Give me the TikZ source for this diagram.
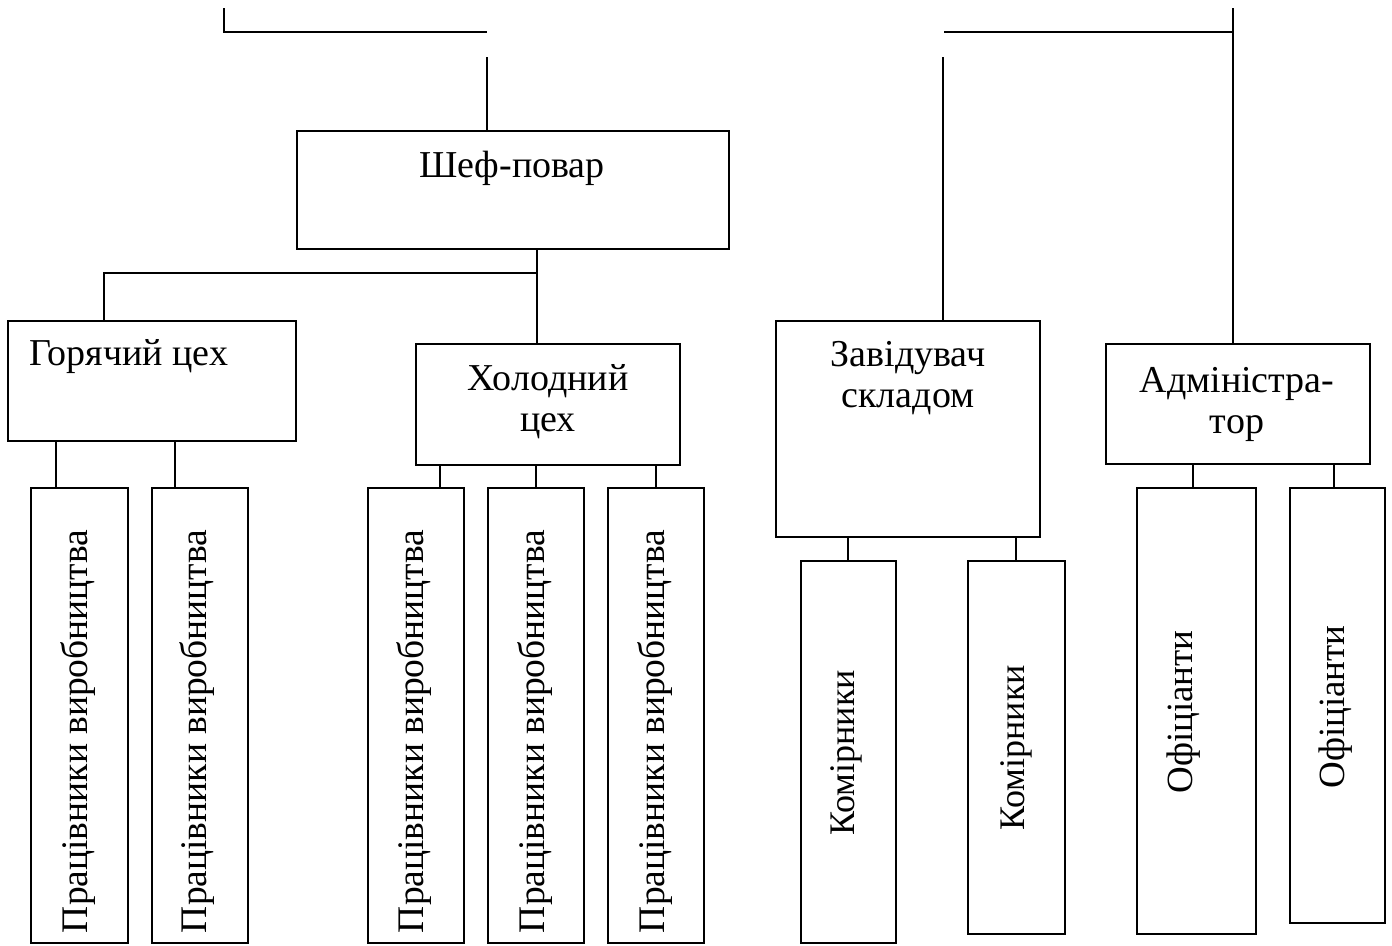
\documentclass[tikz,border=0pt]{standalone}
\usepackage{fontspec}
\setmainfont{Liberation Serif}
\begin{document}
\begin{tikzpicture}[x=1pt,y=-1pt,
  box/.style={draw,line width=2pt,inner sep=0pt,outer sep=0pt},
  ln/.style={line width=2pt},
  txt/.style={font=\fontsize{38}{44}\selectfont,inner sep=0pt,outer sep=0pt},
  vtxt/.style={font=\fontsize{37.5}{44}\selectfont,inner sep=0pt,outer sep=0pt,rotate=90},
  ktxt/.style={font=\fontsize{36}{44}\selectfont,inner sep=0pt,outer sep=0pt,rotate=90}]
\useasboundingbox (0,0) rectangle (1392,945);
% boxes
\node[box,minimum width=432pt,minimum height=118pt] (shef) at (513,190) {};
\node[box,minimum width=288pt,minimum height=120pt] (gor) at (152,381) {};
\node[box,minimum width=264pt,minimum height=121pt] (hol) at (548,404.5) {};
\node[box,minimum width=264pt,minimum height=216pt] (zav) at (908,429) {};
\node[box,minimum width=264pt,minimum height=120pt] (adm) at (1238,404) {};
\node[box,minimum width=97pt,minimum height=455pt] (p1) at (79.5,715.5) {};
\node[box,minimum width=96pt,minimum height=455pt] (p2) at (200,715.5) {};
\node[box,minimum width=96pt,minimum height=455pt] (p3) at (416,715.5) {};
\node[box,minimum width=96pt,minimum height=455pt] (p4) at (536,715.5) {};
\node[box,minimum width=96pt,minimum height=455pt] (p5) at (656,715.5) {};
\node[box,minimum width=95pt,minimum height=382pt] (k1) at (848.5,752) {};
\node[box,minimum width=97pt,minimum height=373pt] (k2) at (1016.5,747.5) {};
\node[box,minimum width=119pt,minimum height=446pt] (o1) at (1196.5,711) {};
\node[box,minimum width=95pt,minimum height=435pt] (o2) at (1337.5,705.5) {};
% texts
\node[txt,anchor=base] (shefT) at (512,177) {Шеф-повар};
\node[txt,anchor=base west] (gorT) at (29,365) {Горячий цех};
\node[txt,anchor=base] (holT1) at (548,390) {Холодний};
\node[txt,anchor=base] (holT2) at (548,431) {цех};
\node[txt,anchor=base] (zavT1) at (908,366) {Завідувач};
\node[txt,anchor=base] (zavT2) at (908,407) {складом};
\node[txt,anchor=base] (admT1) at (1237,392) {Адміністра-};
\node[txt,anchor=base] (admT2) at (1237,433) {тор};
\node[vtxt,anchor=base west] (p1T) at (87,933) {Працівники виробництва};
\node[vtxt,anchor=base west] (p2T) at (206,933) {Працівники виробництва};
\node[vtxt,anchor=base west] (p3T) at (423,933) {Працівники виробництва};
\node[vtxt,anchor=base west] (p4T) at (544,933) {Працівники виробництва};
\node[vtxt,anchor=base west] (p5T) at (664,933) {Працівники виробництва};
\node[ktxt,anchor=base] (k1T) at (854,753) {Комірники};
\node[ktxt,anchor=base] (k2T) at (1024,748) {Комірники};
\node[ktxt,font=\fontsize{37}{44}\selectfont,anchor=base] (o1T) at (1192,712) {Офіціанти};
\node[ktxt,font=\fontsize{37}{44}\selectfont,anchor=base] (o2T) at (1344,707) {Офіціанти};
% connector coordinates
\coordinate (tl) at (224,8);
\coordinate (tm) at (487,32);
\coordinate (sv) at (487,57);
\coordinate (tr) at (1233,8);
\coordinate (trh) at (944,32);
\coordinate (zv) at (943,57);
\coordinate (j) at (537,273);
\coordinate (cA) at (104,273);
\coordinate (g1) at (56,0);
\coordinate (g2) at (175,0);
\coordinate (h1) at (440,0);
\coordinate (h2) at (536,0);
\coordinate (h3) at (656,0);
\coordinate (z1) at (848,0);
\coordinate (z2) at (1016,0);
\coordinate (a1) at (1193,0);
\coordinate (a2) at (1334,0);
% connectors
\draw[ln] (tl) |- (tm);
\draw[ln] (sv) -- (sv |- shef.north);
\draw[ln] (trh) -- (tr |- trh);
\draw[ln] (tr) -- (tr |- adm.north);
\draw[ln] (zv) -- (zv |- zav.north);
\draw[ln] (j |- shef.south) -- (j |- hol.north);
\draw[ln] (j) -- (cA) -- (cA |- gor.north);
\draw[ln] (g1 |- gor.south) -- (g1 |- p1.north);
\draw[ln] (g2 |- gor.south) -- (g2 |- p2.north);
\draw[ln] (h1 |- hol.south) -- (h1 |- p3.north);
\draw[ln] (h2 |- hol.south) -- (h2 |- p4.north);
\draw[ln] (h3 |- hol.south) -- (h3 |- p5.north);
\draw[ln] (z1 |- zav.south) -- (z1 |- k1.north);
\draw[ln] (z2 |- zav.south) -- (z2 |- k2.north);
\draw[ln] (a1 |- adm.south) -- (a1 |- o1.north);
\draw[ln] (a2 |- adm.south) -- (a2 |- o2.north);
\end{tikzpicture}
\end{document}
